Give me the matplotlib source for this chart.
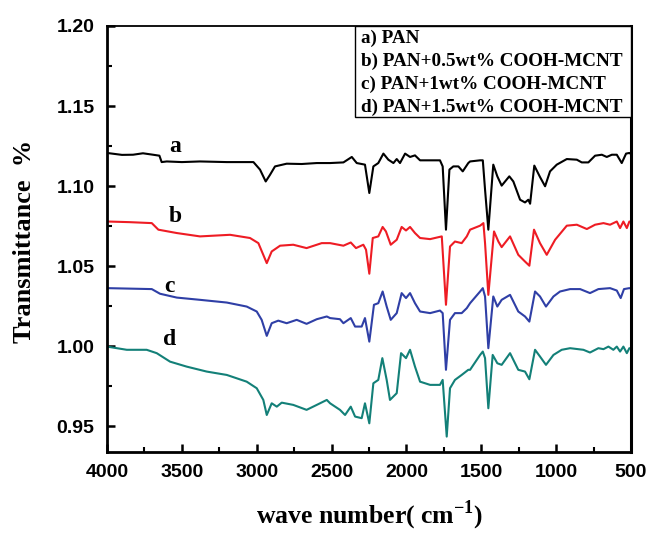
import numpy as np
import matplotlib
matplotlib.use("Agg")
import matplotlib.pyplot as plt
from matplotlib.patches import Rectangle
from matplotlib.ticker import MultipleLocator

plt.rcParams['mathtext.fontset'] = 'custom'
plt.rcParams['mathtext.rm'] = 'Liberation Serif:bold'
plt.rcParams['mathtext.bf'] = 'Liberation Serif:bold'

# FTIR spectra: (wave number, transmittance)
spec_a = [(4000, 1.1207), (3900, 1.1195), (3826, 1.1196), (3760, 1.1205), (3693, 1.1196),
          (3650, 1.1190), (3635, 1.1150), (3601, 1.1154), (3500, 1.1150), (3379, 1.1154),
          (3200, 1.1150), (3022, 1.1150), (2978, 1.1103), (2940, 1.1029), (2911, 1.1071),
          (2878, 1.1123), (2800, 1.1140), (2700, 1.1138), (2599, 1.1144), (2510, 1.1144),
          (2421, 1.1148), (2365, 1.1182), (2332, 1.1144), (2277, 1.1134), (2248, 1.0957),
          (2221, 1.1123), (2188, 1.1144), (2154, 1.1203), (2121, 1.1165), (2087, 1.1144),
          (2065, 1.1169), (2043, 1.1144), (2009, 1.1203), (1976, 1.1182), (1943, 1.1192),
          (1909, 1.1161), (1842, 1.1161), (1776, 1.1161), (1758, 1.1123), (1736, 1.0728),
          (1713, 1.1103), (1687, 1.1123), (1653, 1.1123), (1624, 1.1092), (1587, 1.1144),
          (1575, 1.1154), (1508, 1.1161), (1490, 1.1161), (1475, 1.0978), (1453, 1.0728),
          (1420, 1.1134), (1393, 1.1061), (1364, 1.1003), (1313, 1.1061), (1286, 1.1029),
          (1241, 1.0915), (1208, 1.0898), (1186, 1.0915), (1174, 1.0890), (1146, 1.1128),
          (1108, 1.1057), (1074, 1.0999), (1041, 1.1092), (996, 1.1134), (929, 1.1169),
          (862, 1.1165), (829, 1.1148), (785, 1.1148), (740, 1.1190), (695, 1.1196),
          (662, 1.1182), (628, 1.1196), (595, 1.1196), (562, 1.1144), (533, 1.1203),
          (511, 1.1207), (500, 1.1200)]

spec_b = [(4000, 1.0779), (3850, 1.0775), (3701, 1.0769), (3657, 1.0728), (3534, 1.0707),
          (3379, 1.0686), (3178, 1.0696), (3045, 1.0676), (2989, 1.0644), (2933, 1.0519),
          (2900, 1.0592), (2844, 1.0628), (2756, 1.0634), (2667, 1.0613), (2566, 1.0644),
          (2510, 1.0644), (2421, 1.0628), (2372, 1.0648), (2337, 1.0613), (2288, 1.0634),
          (2270, 1.0603), (2248, 1.0453), (2225, 1.0676), (2188, 1.0686), (2159, 1.0745),
          (2137, 1.0717), (2105, 1.0634), (2065, 1.0665), (2032, 1.0745), (2003, 1.0723),
          (1976, 1.0745), (1943, 1.0707), (1909, 1.0676), (1842, 1.0669), (1764, 1.0686),
          (1736, 1.0259), (1709, 1.0623), (1676, 1.0654), (1631, 1.0644), (1597, 1.0686),
          (1575, 1.0728), (1508, 1.0753), (1486, 1.0769), (1475, 1.0644), (1453, 1.0321),
          (1415, 1.0717), (1386, 1.0654), (1364, 1.0619), (1308, 1.0686), (1253, 1.0571),
          (1208, 1.0529), (1179, 1.0503), (1148, 1.0728), (1108, 1.0644), (1063, 1.0571),
          (1007, 1.0665), (929, 1.0753), (862, 1.0759), (795, 1.0732), (740, 1.0759),
          (684, 1.0769), (640, 1.0759), (595, 1.0779), (573, 1.0738), (551, 1.0779),
          (528, 1.0738), (511, 1.0779), (500, 1.0775)]

spec_c = [(4000, 1.0363), (3850, 1.0360), (3701, 1.0357), (3646, 1.0328), (3534, 1.0304),
          (3379, 1.0290), (3200, 1.0273), (3067, 1.0248), (3000, 1.0217), (2967, 1.0165),
          (2933, 1.0065), (2900, 1.0144), (2856, 1.0160), (2800, 1.0144), (2733, 1.0165),
          (2667, 1.0140), (2599, 1.0169), (2532, 1.0186), (2510, 1.0176), (2444, 1.0169),
          (2421, 1.0144), (2372, 1.0176), (2343, 1.0123), (2299, 1.0123), (2277, 1.0176),
          (2248, 1.0029), (2217, 1.0259), (2188, 1.0269), (2159, 1.0342), (2132, 1.0248),
          (2105, 1.0165), (2065, 1.0207), (2032, 1.0332), (2003, 1.0301), (1976, 1.0332),
          (1943, 1.0269), (1909, 1.0217), (1842, 1.0207), (1776, 1.0223), (1758, 1.0207),
          (1736, 0.9853), (1709, 1.0165), (1676, 1.0207), (1631, 1.0207), (1597, 1.0238),
          (1575, 1.0269), (1508, 1.0342), (1490, 1.0363), (1475, 1.0311), (1453, 0.9988),
          (1420, 1.0311), (1393, 1.0248), (1364, 1.0290), (1308, 1.0321), (1253, 1.0217),
          (1208, 1.0186), (1179, 1.0154), (1141, 1.0342), (1108, 1.0311), (1068, 1.0248),
          (1018, 1.0311), (974, 1.0342), (907, 1.0357), (840, 1.0357), (774, 1.0332),
          (718, 1.0357), (640, 1.0363), (595, 1.0348), (569, 1.0301), (547, 1.0357),
          (511, 1.0363), (500, 1.0360)]

spec_d = [(4000, 0.9998), (3868, 0.9978), (3735, 0.9978), (3668, 0.9957), (3579, 0.9904),
          (3468, 0.9873), (3334, 0.9842), (3200, 0.9821), (3067, 0.9779), (3000, 0.9738),
          (2956, 0.9665), (2933, 0.9571), (2900, 0.9644), (2866, 0.9623), (2833, 0.9648),
          (2756, 0.9634), (2667, 0.9603), (2599, 0.9634), (2532, 0.9665), (2510, 0.9644),
          (2444, 0.9603), (2410, 0.9571), (2372, 0.9623), (2343, 0.9561), (2299, 0.9551),
          (2277, 0.9644), (2248, 0.9519), (2221, 0.9769), (2188, 0.9790), (2161, 0.9926),
          (2132, 0.9790), (2110, 0.9665), (2065, 0.9707), (2036, 0.9957), (2003, 0.9926),
          (1976, 0.9978), (1943, 0.9873), (1909, 0.9779), (1842, 0.9759), (1776, 0.9759),
          (1758, 0.9790), (1731, 0.9436), (1709, 0.9738), (1676, 0.9790), (1631, 0.9821),
          (1587, 0.9853), (1575, 0.9853), (1508, 0.9946), (1490, 0.9967), (1475, 0.9926),
          (1453, 0.9613), (1424, 0.9946), (1393, 0.9894), (1364, 0.9884), (1308, 0.9957),
          (1253, 0.9853), (1208, 0.9842), (1179, 0.9794), (1141, 0.9978), (1108, 0.9936),
          (1068, 0.9884), (1018, 0.9946), (963, 0.9978), (907, 0.9988), (818, 0.9978),
          (774, 0.9961), (718, 0.9988), (684, 0.9982), (651, 0.9998), (618, 0.9978),
          (595, 0.9998), (573, 0.9967), (551, 0.9998), (528, 0.9957), (511, 0.9988),
          (500, 0.9985)]

series = [spec_a, spec_b, spec_c, spec_d]
colors = ['#000000', '#ee1c24', '#2f3fa6', '#138078']
curve_tags = ['a', 'b', 'c', 'd']
tag_pos = [(3546, 1.1248), (3546, 1.0811), (3580, 1.0373), (3580, 1.0040)]
legend_lines = ['a) PAN', 'b) PAN+0.5wt% COOH-MCNT', 'c) PAN+1wt% COOH-MCNT',
                'd) PAN+1.5wt% COOH-MCNT']

fig = plt.figure(figsize=(6.47, 5.34), dpi=100)
ax = fig.add_axes([0.1654, 0.1536, 0.8099, 0.7978])

for spec, col in zip(series, colors):
    arr = np.array(spec).T
    ax.plot(arr[0], arr[1], color=col, lw=1.5)

for tag, (x, y) in zip(curve_tags, tag_pos):
    ax.text(x, y, tag, family='Liberation Serif', fontweight='bold', fontsize=17,
            ha='center', va='center')

ax.set_xlim(4000, 500)
ax.set_ylim(0.934, 1.20)
ax.xaxis.set_major_locator(MultipleLocator(500))
ax.xaxis.set_minor_locator(MultipleLocator(250))
ax.yaxis.set_major_locator(MultipleLocator(0.05))
ax.yaxis.set_minor_locator(MultipleLocator(0.025))
ax.yaxis.set_major_formatter(matplotlib.ticker.FormatStrFormatter('%.2f'))
ax.tick_params(which='both', direction='in', top=False, right=False)
ax.tick_params(which='major', length=6, width=1.8)
ax.tick_params(which='minor', length=3.5, width=1.5)
ax.tick_params(axis='x', pad=9)
ax.tick_params(axis='y', pad=9)
for lab in ax.get_xticklabels() + ax.get_yticklabels():
    lab.set_family('Liberation Sans')
    lab.set_fontweight('bold')
    lab.set_fontsize(14)

ax.spines['left'].set_linewidth(2.0)
ax.spines['bottom'].set_linewidth(2.0)
ax.spines['right'].set_linewidth(2.2)
ax.spines['top'].set_linewidth(1.3)

# legend box
ax.add_patch(Rectangle((0.473, 0.786), 0.527, 0.214, transform=ax.transAxes,
                       facecolor='white', edgecolor='black', lw=1.0, zorder=3))
for i, line in enumerate(legend_lines):
    ax.text(0.484, 0.970 - i * 0.0535, line, transform=ax.transAxes,
            family='Liberation Serif', fontweight='bold', fontsize=13.8,
            ha='left', va='center', zorder=4)

fig.text(25 / 647, 1 - 241 / 534, 'Transmittance  %', rotation=90,
         family='Liberation Serif', fontweight='bold', fontsize=19,
         ha='center', va='center')
fig.text(370 / 647, 1 - 515 / 534, 'wave number( cm$^{\\mathbf{-1}}$)',
         family='Liberation Serif', fontweight='bold', fontsize=18.5,
         ha='center', va='center')

fig.savefig('out.png', dpi=100)
